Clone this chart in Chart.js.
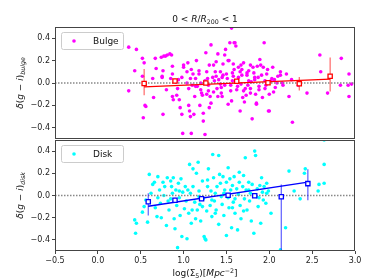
<!DOCTYPE html>
<html>
<head>
<meta charset="utf-8">
<script src="https://cdn.jsdelivr.net/npm/chart.js@4/dist/chart.umd.min.js"></script>
<style>
  html, body { margin: 0; padding: 0; background: #fff; }
  #wrap { position: relative; width: 374px; height: 280px; }
  canvas { position: absolute; left: 0; }
</style>
</head>
<body>
<div id="wrap">
  <canvas id="topChart" width="374" height="140" style="top:0"></canvas>
  <canvas id="botChart" width="374" height="140" style="top:140px"></canvas>
</div>
<script>
const xTicks = [-0.5, 0.0, 0.5, 1.0, 1.5, 2.0, 2.5, 3.0];
const yTicks = [-0.4, -0.2, 0.0, 0.2, 0.4];

// bulge residuals vs log(Sigma5)
const bulgePts = [
  [0.36,0.32],[0.45,0.30],[0.43,0.11],[0.36,-0.07],[0.52,0.22],[0.54,0.18],[0.52,0.06],[0.53,-0.31],
  [0.55,-0.20],[0.56,-0.21],[0.65,-0.13],[0.67,0.22],[0.68,0.13],[0.64,0.04],[0.74,0.23],[0.75,0.06],
  [0.77,0.24],[0.79,0.24],[0.76,0.11],[0.75,0.05],[0.76,-0.28],[0.81,0.25],[0.84,0.26],[0.86,0.25],
  [0.80,-0.06],[0.87,0.08],[0.87,0.15],[0.85,0.04],[0.87,-0.12],[0.88,-0.15],[0.91,0.01],[0.92,-0.11],
  [0.94,0.03],[0.95,-0.15],[0.96,-0.22],[0.98,-0.28],[1.00,0.16],[1.00,0.14],[0.99,-0.45],[1.04,0.10],
  [1.04,0.00],[1.06,-0.05],[1.08,0.04],[1.09,0.12],[1.06,-0.20],[1.07,-0.25],[1.08,-0.30],[1.09,-0.45],
  [1.11,0.08],[1.13,-0.12],[1.14,0.04],[1.14,-0.03],[1.16,-0.03],[1.18,0.08],[1.18,0.11],[1.20,0.00],
  [1.20,-0.06],[1.21,-0.09],[1.22,-0.11],[1.23,-0.27],[1.23,-0.34],[1.25,-0.46],[1.26,0.27],[1.27,0.10],
  [1.28,0.04],[1.29,-0.02],[1.29,-0.07],[1.30,0.16],[1.31,-0.12],[1.32,-0.18],[1.32,0.34],[1.34,0.05],
  [1.35,0.16],[1.36,0.02],[1.37,0.10],[1.38,0.19],[1.39,-0.05],[1.40,0.26],[1.41,0.03],[1.43,0.10],
  [1.43,-0.01],[1.44,-0.09],[1.45,-0.12],[1.46,0.17],[1.46,0.07],[1.48,0.25],[1.49,0.30],[1.50,0.08],
  [1.51,0.04],[1.52,0.20],[1.53,0.20],[1.54,0.36],[1.55,-0.02],[1.56,-0.16],[1.57,0.09],[1.57,0.02],
  [1.58,0.17],[1.59,0.12],[1.59,0.36],[1.60,0.36],[1.61,0.33],[1.62,-0.06],[1.63,-0.03],[1.64,0.14],
  [1.64,0.05],[1.66,0.10],[1.67,-0.01],[1.67,0.16],[1.68,0.07],[1.69,-0.13],[1.70,0.18],[1.71,-0.17],
  [1.72,-0.05],[1.73,-0.11],[1.74,0.07],[1.74,0.09],[1.76,0.11],[1.76,0.02],[1.78,0.16],[1.78,-0.05],
  [1.79,0.01],[1.80,-0.32],[1.81,0.14],[1.82,0.09],[1.83,0.05],[1.84,-0.10],[1.85,-0.18],[1.85,-0.19],
  [1.86,0.15],[1.87,0.05],[1.88,-0.03],[1.89,0.21],[1.90,0.16],[1.91,0.07],[1.92,-0.13],[1.93,0.14],
  [1.94,0.36],[1.95,0.02],[1.96,-0.02],[1.97,0.08],[1.98,0.12],[1.99,-0.25],[2.00,-0.25],[2.02,0.02],
  [2.03,0.04],[2.04,0.14],[2.05,-0.08],[2.06,0.03],[2.07,-0.04],[2.09,0.00],[2.13,0.10],[2.13,0.07],
  [2.15,0.00],[2.16,-0.02],[2.20,0.08],[2.23,-0.12],[2.27,-0.35],[2.34,-0.02],[2.44,-0.09],[2.59,0.25],
  [2.60,0.10],[2.68,-0.09],[2.84,0.22],[2.83,-0.02],[2.92,-0.02],[2.93,0.08],[2.93,-0.12],[2.96,-0.01],
  [1.56,0.49],[1.35,-0.08],[1.48,-0.02],[1.62,0.01],[1.70,-0.07],[1.78,-0.09],[1.40,-0.12],[1.52,-0.19],
  [1.66,-0.25],[1.30,-0.22],[1.19,-0.20],[1.12,-0.28],[1.58,0.06],[1.88,-0.06],[2.00,-0.10],[1.45,0.05],
  [1.25,0.02],[1.10,-0.02],[0.98,0.05],[0.93,-0.05],[1.05,0.18],[1.15,0.20],[1.55,-0.07],[1.75,-0.02],
  [1.95,-0.05],[2.10,0.06],[1.83,0.03],[1.68,0.12],[1.38,0.06],[1.44,-0.04],[1.27,-0.10],[2.26,0.03]
];
const bulgeBinX = [0.54, 0.90, 1.26, 1.62, 1.985, 2.35, 2.71];
const bulgeBinY = [-0.005, 0.018, 0.0, 0.015, 0.003, -0.006, 0.06];
const bulgeBinLo = [-0.11, -0.005, -0.015, 0.0, -0.012, -0.066, -0.075];
const bulgeBinHi = [0.125, 0.04, 0.015, 0.03, 0.018, 0.054, 0.227];
const bulgeFitX = [0.54, 2.71];
const bulgeFitY = [-0.035, 0.035];

// disk residuals vs log(Sigma5)
const diskPts = [
  [0.43,-0.22],[0.45,-0.25],[0.44,-0.34],[0.52,-0.15],[0.54,-0.10],[0.56,-0.04],[0.58,-0.24],[0.60,0.19],
  [0.62,0.02],[0.64,0.10],[0.66,0.12],[0.67,-0.11],[0.69,-0.19],[0.70,0.17],[0.72,0.05],[0.73,-0.07],
  [0.74,-0.20],[0.76,0.12],[0.77,0.00],[0.78,0.08],[0.80,-0.27],[0.81,0.16],[0.82,-0.05],[0.83,-0.13],
  [0.85,0.13],[0.86,0.08],[0.87,0.02],[0.88,0.16],[0.89,-0.21],[0.90,-0.30],[0.91,0.05],[0.92,-0.09],
  [0.93,-0.47],[0.94,0.11],[0.95,-0.02],[0.96,-0.18],[0.97,0.15],[0.98,-0.37],[0.99,0.03],[1.01,-0.12],
  [1.02,0.08],[1.03,-0.05],[1.04,-0.39],[1.06,-0.16],[1.07,0.28],[1.08,0.02],[1.09,-0.25],[1.11,0.24],
  [1.11,0.08],[1.13,-0.06],[1.14,-0.21],[1.15,0.20],[1.16,-0.13],[1.17,0.30],[1.18,0.04],[1.19,-0.08],
  [1.20,-0.23],[1.22,0.13],[1.23,-0.03],[1.24,-0.37],[1.25,-0.39],[1.26,-0.40],[1.27,-0.14],[1.28,0.08],
  [1.29,0.24],[1.31,-0.09],[1.32,0.04],[1.33,-0.19],[1.34,0.37],[1.35,0.16],[1.36,-0.05],[1.37,0.02],
  [1.38,-0.13],[1.39,0.08],[1.41,-0.26],[1.41,0.36],[1.43,0.11],[1.44,-0.01],[1.45,-0.08],[1.46,0.17],
  [1.47,-0.18],[1.48,0.05],[1.50,-0.36],[1.50,0.12],[1.52,-0.02],[1.53,-0.11],[1.54,0.15],[1.55,0.05],
  [1.56,-0.29],[1.57,0.09],[1.58,-0.06],[1.59,0.17],[1.60,-0.16],[1.62,0.06],[1.63,-0.31],[1.64,0.01],
  [1.65,0.12],[1.66,-0.09],[1.67,-0.21],[1.69,0.08],[1.70,0.18],[1.71,-0.03],[1.72,0.34],[1.73,0.05],
  [1.74,-0.13],[1.76,0.12],[1.77,-0.05],[1.78,0.02],[1.79,-0.23],[1.80,0.10],[1.82,-0.34],[1.83,0.40],
  [1.84,0.36],[1.85,-0.01],[1.86,0.06],[1.87,-0.10],[1.89,0.09],[1.90,-0.25],[1.91,0.16],[1.92,0.03],
  [1.93,-0.04],[1.94,0.08],[1.96,-0.07],[1.97,0.11],[1.99,0.04],[2.02,-0.16],[2.19,-0.29],[2.23,0.22],
  [2.29,0.04],[2.36,-0.03],[2.41,0.20],[2.42,0.24],[2.57,0.04],[2.58,0.10],[2.64,0.11],[2.64,0.28],
  [2.64,0.50],[2.13,-0.49],[1.05,0.05],[1.18,-0.01],[1.33,-0.04],[1.47,0.02],[1.60,-0.03],[1.76,0.05],
  [1.88,-0.02],[1.28,0.14],[1.42,0.19],[1.65,0.21],[1.52,0.25],[1.97,0.02],[1.70,-0.14],[1.57,-0.11],
  [1.37,-0.16],[1.22,-0.10],[1.10,-0.13],[0.95,0.04],[0.85,-0.03],[0.70,-0.02]
];
const diskBinX = [0.588, 0.90, 1.21, 1.52, 1.83, 2.14, 2.45];
const diskBinY = [-0.057, -0.042, -0.03, 0.003, -0.003, -0.012, 0.107];
const diskBinLo = [-0.18, -0.065, -0.045, -0.01, -0.015, -0.49, -0.042];
const diskBinHi = [0.02, -0.02, -0.015, 0.015, 0.01, 0.10, 0.236];
const diskFitX = [0.588, 2.45];
const diskFitY = [-0.097, 0.12];

const FONT = '"DejaVu Sans", sans-serif';

function fmtTick(v) {
  return (v < 0 ? '\u2212' : '') + Math.abs(v).toFixed(1);
}

function drawRich(ctx, segs, cx, cy, size, rot) {
  ctx.save();
  ctx.translate(cx, cy);
  if (rot) ctx.rotate(rot);
  const fontFor = s => `${s.i ? 'italic ' : ''}${(s.sub || s.sup) ? size * 0.7 : size}px ${FONT}`;
  let total = 0;
  segs.forEach(s => { ctx.font = fontFor(s); s.w = ctx.measureText(s.t).width; total += s.w; });
  let x = -total / 2;
  ctx.fillStyle = '#111';
  ctx.textBaseline = 'alphabetic';
  segs.forEach(s => {
    ctx.font = fontFor(s);
    const dy = s.sub ? size * 0.25 : s.sup ? -size * 0.4 : 0;
    ctx.fillText(s.t, x, size * 0.35 + dy);
    x += s.w;
  });
  ctx.restore();
}

function decorPlugin(opts) {
  return {
    id: 'decor',
    afterDraw(chart) {
      const ctx = chart.ctx;
      const a = chart.chartArea;
      // full frame
      ctx.save();
      ctx.strokeStyle = '#444';
      ctx.lineWidth = 1;
      ctx.strokeRect(a.left + 0.5, a.top + 0.5, a.right - a.left - 1, a.bottom - a.top - 1);
      // legend box
      const lx = a.left + 6, ly = a.top + 5;
      ctx.fillStyle = 'rgba(255,255,255,0.85)';
      ctx.strokeStyle = '#ccc';
      ctx.beginPath();
      ctx.roundRect(lx + 0.5, ly + 0.5, 62, 17, 2);
      ctx.fill();
      ctx.stroke();
      ctx.fillStyle = opts.color;
      ctx.beginPath();
      ctx.arc(lx + 13, ly + 9, 1.8, 0, Math.PI * 2);
      ctx.fill();
      ctx.fillStyle = '#111';
      ctx.font = `9px ${FONT}`;
      ctx.textBaseline = 'middle';
      ctx.fillText(opts.legend, lx + 32, ly + 9.5);
      ctx.restore();
      drawRich(ctx, opts.ylabel, 20, (a.top + a.bottom) / 2, 9, -Math.PI / 2);
      if (opts.title) drawRich(ctx, opts.title, (a.left + a.right) / 2, 19, 9, 0);
      if (opts.xlabel) drawRich(ctx, opts.xlabel, (a.left + a.right) / 2, 133, 9, 0);
    }
  };
}

function buildPanel(canvasId, pts, color, binX, binY, lo, hi, fitX, fitY, lineColor, barColor, isBottom, decor) {
  const bars = [];
  binX.forEach((x, i) => {
    bars.push({ x, y: lo[i] }, { x, y: hi[i] }, { x, y: null });
  });
  return new Chart(document.getElementById(canvasId), {
    type: 'scatter',
    data: {
      datasets: [
        {
          data: binX.map((x, i) => ({ x, y: binY[i] })),
          pointStyle: 'rect', pointRadius: 3, backgroundColor: '#fff',
          borderColor: lineColor, borderWidth: 1.3, order: 1,
        },
        {
          data: fitX.map((x, i) => ({ x, y: fitY[i] })),
          showLine: true, borderColor: lineColor, borderWidth: 1.3, pointRadius: 0, order: 2,
        },
        {
          data: bars, showLine: true, spanGaps: false,
          borderColor: barColor, borderWidth: 1.2, pointRadius: 0, order: 3,
        },
        {
          data: [{ x: -0.5, y: 0 }, { x: 3.0, y: 0 }],
          showLine: true, borderColor: '#888', borderWidth: 1.4, borderDash: [1.5, 1.5],
          pointRadius: 0, order: 4,
        },
        {
          data: pts.map(([x, y]) => ({ x, y })),
          backgroundColor: color, borderWidth: 0, pointRadius: 1.8, order: 5,
        },
      ],
    },
    options: {
      responsive: false,
      animation: false,
      events: [],
      layout: { autoPadding: false, padding: { left: 0, right: 19, top: isBottom ? 0 : 27, bottom: 0 } },
      plugins: { legend: { display: false }, tooltip: { enabled: false } },
      scales: {
        x: {
          type: 'linear', min: -0.5, max: 3.0,
          afterBuildTicks: s => { s.ticks = xTicks.map(v => ({ value: v })); },
          afterFit: s => { s.height = isBottom ? 29 : 1; s.paddingLeft = 0; s.paddingRight = 0; },
          grid: { drawOnChartArea: false, drawTicks: isBottom, tickLength: 3, color: '#444' },
          border: { display: false },
          ticks: {
            display: isBottom, color: '#222', padding: 2,
            font: { family: FONT, size: 8 }, maxRotation: 0,
            callback: v => fmtTick(v),
          },
        },
        y: {
          type: 'linear', min: -0.5, max: 0.5,
          afterBuildTicks: s => { s.ticks = yTicks.map(v => ({ value: v })); },
          afterFit: s => { s.width = 55; s.paddingTop = 0; s.paddingBottom = 0; },
          grid: { drawOnChartArea: false, drawTicks: true, tickLength: 3, color: '#444' },
          border: { display: false },
          ticks: {
            color: '#222', padding: 2,
            font: { family: FONT, size: 8 },
            callback: v => fmtTick(v),
          },
        },
      },
    },
    plugins: [decorPlugin(decor)],
  });
}

buildPanel('topChart', bulgePts, '#ff00ff', bulgeBinX, bulgeBinY, bulgeBinLo, bulgeBinHi,
  bulgeFitX, bulgeFitY, '#ff0000', 'rgba(255,40,40,0.7)', false, {
    color: '#ff00ff', legend: 'Bulge',
    title: [{ t: '0 < ' }, { t: 'R', i: 1 }, { t: '/' }, { t: 'R', i: 1 }, { t: '200', sub: 1 }, { t: ' < 1' }],
    ylabel: [{ t: '\u03b4', i: 1 }, { t: '(' }, { t: 'g', i: 1 }, { t: ' \u2212 ' }, { t: 'i', i: 1 }, { t: ')' }, { t: 'bulge', i: 1, sub: 1 }],
  });

buildPanel('botChart', diskPts, '#00ffff', diskBinX, diskBinY, diskBinLo, diskBinHi,
  diskFitX, diskFitY, '#0000ff', 'rgba(40,40,255,0.75)', true, {
    color: '#00ffff', legend: 'Disk',
    ylabel: [{ t: '\u03b4', i: 1 }, { t: '(' }, { t: 'g', i: 1 }, { t: ' \u2212 ' }, { t: 'i', i: 1 }, { t: ')' }, { t: 'disk', i: 1, sub: 1 }],
    xlabel: [{ t: 'log(\u03a3' }, { t: '5', sub: 1 }, { t: ')[' }, { t: 'Mpc', i: 1 }, { t: '\u22122', sup: 1 }, { t: ']' }],
  });
</script>
</body>
</html>
